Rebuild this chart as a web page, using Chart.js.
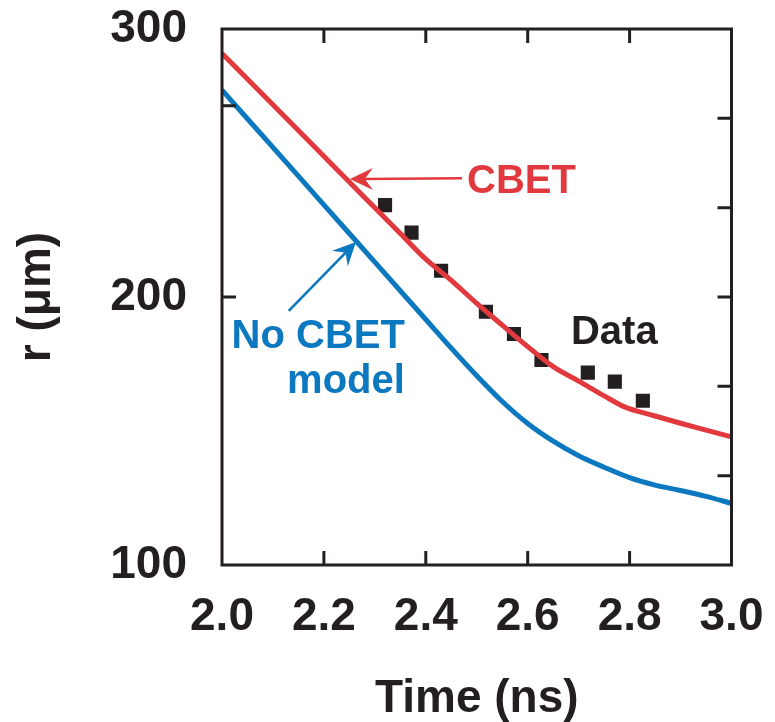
<!DOCTYPE html>
<html>
<head>
<meta charset="utf-8">
<script src="https://cdn.jsdelivr.net/npm/chart.js@4.4.0/dist/chart.umd.min.js"></script>
<style>
  html, body { margin: 0; padding: 0; background: #fff; }
</style>
</head>
<body>
<canvas id="chart" width="775" height="722"></canvas>
<script>
// values
const cbetTime = [2.0, 2.1, 2.2, 2.25, 2.3, 2.35, 2.4, 2.45, 2.5, 2.55, 2.6, 2.65, 2.7, 2.75, 2.79, 2.85, 2.9, 2.95, 3.0];
const cbetRadius = [290.9, 271.7, 252.5, 242.9, 233.3, 223.7, 214.1, 206.2, 197.6, 189.5, 181.5, 174.0, 168.6, 163.1, 159.0, 155.6, 152.9, 150.3, 147.8];

const noCbetTime = [2.0, 2.1, 2.2, 2.3, 2.4, 2.45, 2.5, 2.55, 2.6, 2.65, 2.7, 2.75, 2.8, 2.85, 2.9, 2.95, 3.0];
const noCbetRadius = [277.2, 255.8, 234.4, 213.0, 191.6, 180.9, 170.6, 161.0, 152.8, 146.2, 140.8, 136.5, 132.6, 129.8, 127.8, 125.6, 123.0];

const dataTime = [2.320, 2.372, 2.430, 2.518, 2.573, 2.627, 2.718, 2.771, 2.826];
const dataRadius = [234.3, 224.0, 209.8, 194.5, 186.2, 176.5, 171.8, 168.4, 161.3];

// inward tick marks on the frame
const xTickMarks = [2.2, 2.4, 2.6, 2.8];
const leftTickMarks = [271.4, 200];
const rightTickMarks = [266.7, 233.3, 200, 166.7, 133.3];

const ink = "#231f20";
const red = "#e2393f";
const blue = "#0b78bf";
const fontFamily = "'Liberation Sans', Arial, Helvetica, sans-serif";

function toPoints(xs, ys) {
  return xs.map((x, i) => ({ x: x, y: ys[i] }));
}

// labels and arrows, placed in data units
const notes = {
  cbet: { text: "CBET", x: 2.481, y: 243.0, color: red, align: "left" },
  noCbet1: { text: "No CBET", x: 2.359, y: 185.1, color: blue, align: "right" },
  noCbet2: { text: "model", x: 2.359, y: 168.3, color: blue, align: "right" },
  data: { text: "Data", x: 2.770, y: 186.6, color: ink, align: "center" }
};
const arrows = [
  { from: [2.471, 244.3], to: [2.251, 244.0], color: red },
  { from: [2.131, 194.8], to: [2.263, 220.5], color: blue }
];

const framePlugin = {
  id: "frame",
  afterDatasetsDraw(chart) {
    const { ctx, chartArea: a, scales: { x, y } } = chart;
    const len = 14;
    ctx.save();
    ctx.strokeStyle = ink;
    ctx.lineWidth = 3;
    ctx.strokeRect(a.left, a.top, a.right - a.left, a.bottom - a.top);
    ctx.beginPath();
    xTickMarks.forEach(v => {
      const px = x.getPixelForValue(v);
      ctx.moveTo(px, a.top); ctx.lineTo(px, a.top + len);
      ctx.moveTo(px, a.bottom); ctx.lineTo(px, a.bottom - len);
    });
    leftTickMarks.forEach(v => {
      const py = y.getPixelForValue(v);
      ctx.moveTo(a.left, py); ctx.lineTo(a.left + len, py);
    });
    rightTickMarks.forEach(v => {
      const py = y.getPixelForValue(v);
      ctx.moveTo(a.right, py); ctx.lineTo(a.right - len, py);
    });
    ctx.stroke();
    ctx.restore();
  }
};

const notesPlugin = {
  id: "notes",
  afterDraw(chart) {
    const { ctx, scales: { x, y } } = chart;
    ctx.save();
    ctx.font = "bold 40px " + fontFamily;
    ctx.textBaseline = "middle";
    Object.values(notes).forEach(n => {
      ctx.fillStyle = n.color;
      ctx.textAlign = n.align;
      ctx.fillText(n.text, x.getPixelForValue(n.x), y.getPixelForValue(n.y));
    });
    arrows.forEach(ar => {
      const x0 = x.getPixelForValue(ar.from[0]), y0 = y.getPixelForValue(ar.from[1]);
      const x1 = x.getPixelForValue(ar.to[0]), y1 = y.getPixelForValue(ar.to[1]);
      const ang = Math.atan2(y1 - y0, x1 - x0);
      const headLen = 23, headHalf = 11;
      ctx.strokeStyle = ar.color;
      ctx.fillStyle = ar.color;
      ctx.lineWidth = 2.6;
      ctx.beginPath();
      ctx.moveTo(x0, y0);
      ctx.lineTo(x1 - Math.cos(ang) * headLen * 0.6, y1 - Math.sin(ang) * headLen * 0.6);
      ctx.stroke();
      ctx.translate(x1, y1);
      ctx.rotate(ang);
      ctx.beginPath();
      ctx.moveTo(0, 0);
      ctx.lineTo(-headLen, -headHalf);
      ctx.lineTo(-headLen * 0.65, 0);
      ctx.lineTo(-headLen, headHalf);
      ctx.closePath();
      ctx.fill();
      ctx.setTransform(1, 0, 0, 1, 0, 0);
    });
    ctx.restore();
  }
};

const ctx = document.getElementById("chart").getContext("2d");
const chart = new Chart(ctx, {
  type: "scatter",
  data: {
    datasets: [
      {
        label: "CBET",
        data: toPoints(cbetTime, cbetRadius),
        showLine: true,
        borderColor: red,
        borderWidth: 5,
        pointRadius: 0,
        cubicInterpolationMode: "monotone"
      },
      {
        label: "No CBET model",
        data: toPoints(noCbetTime, noCbetRadius),
        showLine: true,
        borderColor: blue,
        borderWidth: 5,
        pointRadius: 0,
        cubicInterpolationMode: "monotone"
      },
      {
        label: "Data",
        data: toPoints(dataTime, dataRadius),
        showLine: false,
        pointStyle: "rect",
        pointRadius: 10,
        pointHoverRadius: 10,
        backgroundColor: ink,
        borderColor: ink,
        borderWidth: 0
      }
    ]
  },
  options: {
    responsive: false,
    animation: false,
    layout: { padding: { top: 29, right: 43.5, bottom: 0, left: 0 } },
    plugins: {
      legend: { display: false },
      tooltip: { enabled: false }
    },
    scales: {
      x: {
        type: "linear",
        min: 2.0,
        max: 3.0,
        grid: { display: false, drawTicks: false },
        border: { display: false },
        ticks: {
          stepSize: 0.2,
          padding: 25,
          color: ink,
          font: { family: fontFamily, size: 46, weight: "bold" },
          callback: v => v.toFixed(1)
        },
        title: {
          display: true,
          text: "Time (ns)",
          color: ink,
          font: { family: fontFamily, size: 46, weight: "bold", lineHeight: 1 },
          padding: { top: 0, bottom: 0 }
        },
        afterFit: s => {
          s.height = 157;
          s.paddingLeft = 0;
          s.paddingRight = 0;
        }
      },
      y: {
        type: "linear",
        min: 100,
        max: 300,
        grid: { display: false, drawTicks: false },
        border: { display: false },
        ticks: {
          stepSize: 100,
          padding: 35,
          color: ink,
          font: { family: fontFamily, size: 46, weight: "bold" }
        },
        title: {
          display: true,
          text: "r (μm)",
          color: ink,
          font: { family: fontFamily, size: 46, weight: "bold", lineHeight: 1 },
          padding: { top: 14, bottom: 0 }
        },
        afterFit: s => {
          s.width = 222;
          s.paddingTop = 0;
          s.paddingBottom = 0;
        }
      }
    }
  },
  plugins: [framePlugin, notesPlugin]
});
</script>
</body>
</html>
